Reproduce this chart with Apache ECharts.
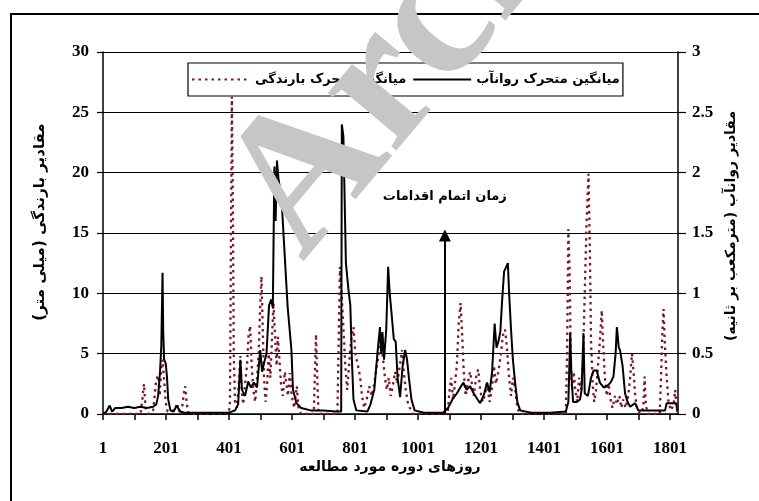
<!DOCTYPE html>
<html>
<head>
<meta charset="utf-8">
<script src="https://cdn.jsdelivr.net/npm/echarts@6/dist/echarts.min.js"></script>
<style>html,body{margin:0;padding:0;background:#fff}#c{width:759px;height:501px}</style>
</head>
<body>
<div id="c"></div>
<script>
// ---- data ----
const xTickStep = 200;
const rainName = 'میانگین متحرک بارندگی';
const runoffName = 'میانگین متحرک روانآب';
const leftTitle = 'مقادیر بارندگی (میلی متر)';
const rightTitle = 'مقادیر روانآب (مترمکعب بر ثانیه)';
const xTitle = 'روزهای دوره مورد مطالعه';
const noteText = 'زمان اتمام اقدامات';
const watermarkText = 'Archive of SID';
const noteDay = 1086;
const noteTop = 14.8;

const runoffDay = [1,12,22,30,40,60,80,100,120,140,160,170,176,182,186,190,192,195,200,204,208,215,225,235,245,260,300,350,400,420,430,437,442,452,462,470,480,490,500,506,512,520,528,535,540,545,549,553,558,568,575,587,599,604,615,630,660,700,740,757,759,764,772,780,786,791,796,805,840,850,862,872,880,884,888,893,900,906,911,918,924,930,936,944,952,960,966,972,980,990,1020,1080,1096,1110,1124,1135,1145,1155,1166,1178,1190,1198,1210,1220,1228,1236,1244,1250,1256,1262,1268,1274,1280,1286,1290,1296,1302,1309,1316,1325,1360,1420,1470,1478,1484,1488,1493,1505,1515,1520,1526,1530,1540,1550,1558,1568,1578,1590,1600,1612,1621,1628,1632,1638,1642,1650,1658,1666,1674,1690,1700,1740,1785,1790,1820,1824];
const runoffVal = [0,0.02,0.07,0.02,0.05,0.05,0.06,0.05,0.06,0.05,0.06,0.08,0.15,0.35,0.56,1.17,0.7,0.45,0.42,0.31,0.12,0.03,0.02,0.07,0.02,0.01,0.01,0.01,0.01,0.03,0.08,0.45,0.2,0.15,0.27,0.22,0.26,0.22,0.53,0.35,0.42,0.5,0.9,0.95,0.88,2.05,1.6,2.1,1.95,1.77,1.44,0.89,0.53,0.2,0.09,0.05,0.03,0.03,0.02,0.02,2.4,2.3,1.25,1.03,0.9,0.45,0.12,0.03,0.02,0.08,0.2,0.5,0.72,0.5,0.68,0.45,0.7,1.22,1.0,0.8,0.62,0.6,0.3,0.14,0.4,0.53,0.45,0.3,0.12,0.03,0.01,0.01,0.05,0.12,0.17,0.22,0.26,0.2,0.23,0.17,0.12,0.09,0.16,0.26,0.18,0.35,0.75,0.55,0.6,0.68,0.95,1.18,1.19,1.25,1.0,0.7,0.45,0.26,0.1,0.03,0.01,0.01,0.02,0.1,0.67,0.3,0.1,0.1,0.12,0.2,0.67,0.17,0.15,0.3,0.36,0.36,0.26,0.22,0.23,0.26,0.31,0.5,0.72,0.55,0.53,0.4,0.17,0.1,0.06,0.09,0.03,0.03,0.03,0.09,0.09,0.03];

const rainDay = [1,120,126,131,136,145,160,170,176,181,186,190,195,200,206,230,236,242,252,258,262,267,272,280,400,404,408,410,413,416,420,426,432,437,441,446,452,458,463,468,473,478,484,490,495,500,504,508,512,517,522,527,532,537,542,547,552,556,561,566,572,578,583,588,594,600,608,616,622,630,670,673,677,681,685,745,749,753,758,764,770,776,782,788,796,802,811,817,823,830,838,846,854,862,870,878,884,890,896,902,908,914,920,928,935,942,950,956,962,968,975,985,1095,1100,1106,1112,1118,1124,1130,1136,1141,1146,1152,1158,1166,1172,1178,1186,1192,1198,1206,1212,1220,1228,1235,1242,1248,1256,1264,1270,1277,1283,1290,1296,1302,1310,1316,1325,1470,1474,1478,1482,1486,1490,1495,1500,1506,1512,1518,1524,1530,1536,1542,1546,1550,1555,1560,1566,1572,1578,1584,1588,1594,1600,1606,1612,1618,1626,1632,1640,1646,1652,1660,1668,1674,1680,1685,1690,1696,1705,1716,1720,1724,1730,1768,1772,1776,1780,1784,1790,1796,1804,1812,1817,1822,1825];
const rainVal = [0,0,1.2,2.5,0.5,0,0.3,2.8,3.2,1.5,3.8,4.5,2.8,1.0,0.2,0.3,0.9,0.2,0.5,1.8,2.3,0.8,0.1,0,0,1,18,26.3,18,5,1,0.5,2.5,4.8,2,0.8,2.5,4,6.5,7.3,4,2,1,3,5,9,11.4,7,3,1,2.5,5,3,6,9.2,6.5,4,6.4,4.5,2.5,1.5,3.5,2.5,1.5,3.4,1.5,0.5,2.3,0.4,0,0,3,6.6,3,0,0,6,12.2,10,7.2,4,2,4,6,7.2,5,3.9,3.1,1.5,0.5,1.2,2.3,1.5,2.5,4.0,5.2,6.0,4.5,3.0,2.0,3.0,1.5,2.2,3.5,2.5,3.8,5.3,3.4,2.0,1.0,0.5,0,0,1.7,3,1.2,2.5,4,7.5,9.2,6.5,3.5,1.5,2.5,3.5,2.5,1.5,3.2,3.7,2,1,1.5,2.5,1,2,4,2.5,3.5,5,6.5,7,5.5,3,1.5,3,1.9,0.5,0,0,5,15.3,12,4,2,3.5,2,1,3,2,4,10,16,19.9,14,6,2.5,1,2,4,6,8.6,6,3,1.5,2.5,1.2,0.5,1.5,0.8,1.5,0.5,1.2,0.5,1.5,3,5,3.5,1.5,0.5,0,0.5,3.1,0.8,0,0,3,6.5,8.7,6,3,1,0.3,0.8,2,0.5,0];

// ---- chart ----
const RLM = '\u200F';
const fa = s => RLM + s + RLM;
const numFont = {fontFamily: 'Liberation Serif', fontWeight: 'bold', fontSize: 17, color: '#000'};
const faFont = 'DejaVu Sans';
const rainColor = '#7a1826';

const chart = echarts.init(document.getElementById('c'), null, {renderer: 'canvas'});
chart.setOption({
  animation: false,
  backgroundColor: '#fff',
  grid: {left: 103, right: 81, top: 52, bottom: 87, containLabel: false},
  legend: {
    left: 188, top: 63,
    data: [rainName, runoffName],
    formatter: n => fa(n),
    itemWidth: 58, itemHeight: 10, itemGap: 6,
    padding: [10, 3, 10, 3],
    itemStyle: {opacity: 0},
    borderColor: '#000', borderWidth: 1.2, borderRadius: 0,
    backgroundColor: '#fff',
    textStyle: {fontFamily: faFont, fontWeight: 'bold', fontSize: 13, color: '#000'}
  },
  xAxis: {
    type: 'value', min: 0, max: 1825, interval: 100,
    axisLine: {show: true, lineStyle: {color: '#000', width: 1.5}},
    axisTick: {show: true, length: 6, lineStyle: {color: '#000', width: 1.5}},
    axisLabel: Object.assign({margin: 26, showMaxLabel: false, formatter: v => (v % xTickStep === 0 ? String(v + 1) : '')}, numFont),
    splitLine: {show: false}
  },
  yAxis: [
    {
      type: 'value', min: 0, max: 30, interval: 5, position: 'left',
      axisLine: {show: true, lineStyle: {color: '#000', width: 1.5}},
      axisTick: {show: true, length: 6, lineStyle: {color: '#000', width: 1.2}},
      axisLabel: Object.assign({margin: 14}, numFont),
      splitLine: {show: true, lineStyle: {color: '#000', width: 1.2}}
    },
    {
      type: 'value', min: 0, max: 3, interval: 0.5, position: 'right',
      axisLine: {show: true, lineStyle: {color: '#000', width: 1.5}},
      axisTick: {show: true, length: 8, lineStyle: {color: '#000', width: 1.2}},
      axisLabel: Object.assign({margin: 14}, numFont),
      splitLine: {show: false}
    }
  ],
  series: [
    {
      name: rainName, type: 'line', yAxisIndex: 0, showSymbol: false, symbol: 'none', z: 2,
      data: rainDay.map((d, i) => [d - 1, rainVal[i]]),
      lineStyle: {color: rainColor, width: 2.3, type: [2.5, 4]},
      itemStyle: {color: rainColor},
      markLine: {
        silent: true, symbol: ['none', 'triangle'], symbolSize: 12,
        lineStyle: {color: '#000', width: 2, type: 'solid'},
        label: {show: true, position: 'end', distance: 32, formatter: fa(noteText),
                fontFamily: faFont, fontWeight: 'bold', fontSize: 13, color: '#000'},
        data: [[{coord: [noteDay - 1, 0], symbol: 'none'}, {coord: [noteDay - 1, noteTop], symbol: 'triangle'}]]
      }
    },
    {
      name: runoffName, type: 'line', yAxisIndex: 1, showSymbol: false, symbol: 'none', z: 3,
      data: runoffDay.map((d, i) => [d - 1, runoffVal[i]]),
      lineStyle: {color: '#000', width: 2},
      itemStyle: {color: '#000'}
    }
  ],
  graphic: [
    {type: 'rect', silent: true, z: 0, shape: {x: 11, y: 14, width: 800, height: 560},
     style: {fill: 'none', stroke: '#000', lineWidth: 2}},
    {type: 'text', x: 40, y: 222, rotation: Math.PI / 2, silent: true,
     style: {text: fa(leftTitle), font: 'bold 15px "DejaVu Sans"', fill: '#000', textAlign: 'center', textVerticalAlign: 'middle'}},
    {type: 'text', x: 731, y: 226, rotation: Math.PI / 2, silent: true,
     style: {text: fa(rightTitle), font: 'bold 14px "DejaVu Sans"', fill: '#000', textAlign: 'center', textVerticalAlign: 'middle'}},
    {type: 'text', x: 390, y: 467, silent: true,
     style: {text: fa(xTitle), font: 'bold 14px "DejaVu Sans"', fill: '#000', textAlign: 'center', textVerticalAlign: 'middle'}},
    {type: 'text', x: 264, y: 230, rotation: 50 * Math.PI / 180, silent: true, z: 100,
     style: {text: watermarkText, font: 'bold 195px "Liberation Serif"', fill: '#c6c6c6', textAlign: 'left', textVerticalAlign: 'middle'}}
  ]
});
</script>
</body>
</html>
